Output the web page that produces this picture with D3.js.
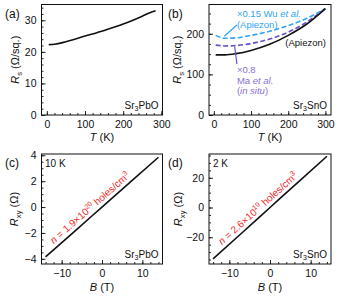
<!doctype html>
<html>
<head>
<meta charset="UTF-8">
<title>Sr3PbO / Sr3SnO transport</title>
<script src="https://d3js.org/d3.v7.min.js"></script>
<style>
    body { margin: 0; background: #fff; }
    svg { font-family: "Liberation Sans", Arial, Helvetica, sans-serif; }
</style>
</head>
<body>
<script>
    // (a) Sr3PbO sheet resistance
    var tA = [5, 20, 50, 100, 150, 200, 250, 270, 285];
    var rA = [22.3, 22.4, 23.2, 25.0, 26.8, 28.8, 31.3, 32.4, 33.0];

    // (b) Sr3SnO sheet resistance, three curves
    var tB = [5, 30, 60, 100, 150, 200, 250, 300];
    var rApiezon = [148, 148, 151, 159, 174, 196, 224, 262];
    var rMa = [172, 170, 171, 176, 187, 204, 229, 262];
    var rWu = [196, 189, 190, 196, 206, 220, 238, 262];

    // (c),(d) Hall resistance
    var field = [-14, -7, 0, 7, 14];
    var rxyPb = [-3.85, -1.93, 0, 1.93, 3.85];
    var rxySn = [-34.5, -17.3, 0, 17.3, 34.5];

    // tick labels
    var tTicks = [0, 100, 200, 300];
    var rsTicksA = [0, 10, 20, 30];
    var rsTicksB = [0, 100, 200];
    var bTicks = [-10, 0, 10];
    var rxyTicksC = [-4, -2, 0, 2, 4];
    var rxyTicksD = [-20, 0, 20];

    var W = 338, H = 300;
    var svg = d3.select("body").append("svg").attr("width", W).attr("height", H);

    function range(a, b, s) {
        var out = [];
        for (var v = a; v <= b + 1e-9; v += s) out.push(+v.toFixed(4));
        return out;
    }

    function panel(o) {
        var g = svg.append("g");
        var x = d3.scaleLinear().domain(o.xd).range([o.l, o.r]);
        var y = d3.scaleLinear().domain(o.yd).range([o.b, o.t]);

        // minor ticks
        g.append("g").attr("transform", "translate(0," + o.b + ")")
            .call(d3.axisBottom(x).tickValues(range(o.xm[0], o.xm[1], o.xm[2])).tickSize(-2).tickFormat(""));
        g.append("g").attr("transform", "translate(" + o.l + ",0)")
            .call(d3.axisLeft(y).tickValues(range(o.ym[0], o.ym[1], o.ym[2])).tickSize(-2).tickFormat(""));
        // major ticks
        g.append("g").attr("class", "ax").attr("transform", "translate(0," + o.b + ")")
            .call(d3.axisBottom(x).tickValues(o.xt).tickSize(-4).tickPadding(6));
        g.append("g").attr("class", "ax").attr("transform", "translate(" + o.l + ",0)")
            .call(d3.axisLeft(y).tickValues(o.yt).tickSize(-4).tickPadding(5));

        g.selectAll(".domain").remove();
        g.selectAll(".tick line").attr("stroke", "#111").attr("stroke-width", 0.9);
        g.selectAll(".ax text").attr("font-size", 10.5).attr("fill", "#111")
            .attr("font-family", "Liberation Sans, Arial, sans-serif");

        g.append("rect")
            .attr("x", o.l).attr("y", o.t)
            .attr("width", o.r - o.l).attr("height", o.b - o.t)
            .attr("fill", "none").attr("stroke", "#111").attr("stroke-width", 1);

        // panel letter
        g.append("text").attr("x", o.lx).attr("y", o.t + 13)
            .attr("font-size", 12).attr("fill", "#111").text(o.letter);

        return { g: g, x: x, y: y };
    }

    function sub(sel, main, s, rest, italicMain) {
        sel.append("tspan").attr("font-style", italicMain ? "italic" : null).text(main);
        sel.append("tspan").attr("font-size", "70%").attr("dy", 2.5).text(s);
        sel.append("tspan").attr("dy", -2.5).text(rest);
    }

    function yTitle(p, cx, main, s, rest) {
        var cy = (p.y.range()[0] + p.y.range()[1]) / 2;
        var t = p.g.append("text")
            .attr("transform", "translate(" + cx + "," + cy + ") rotate(-90)")
            .attr("text-anchor", "middle").attr("font-size", 11).attr("fill", "#111");
        sub(t, main, s, rest, true);
    }

    function xTitle(p, yb, main, rest) {
        var cx = (p.x.range()[0] + p.x.range()[1]) / 2;
        var t = p.g.append("text").attr("x", cx).attr("y", yb)
            .attr("text-anchor", "middle").attr("font-size", 11).attr("fill", "#111");
        t.append("tspan").attr("font-style", "italic").text(main);
        t.append("tspan").text(rest);
    }

    function compound(p, el, rest) {
        var t = p.g.append("text")
            .attr("x", p.x.range()[1] - 4).attr("y", p.y.range()[0] - 6.5)
            .attr("text-anchor", "end").attr("font-size", 10).attr("fill", "#111");
        sub(t, el, "3", rest, false);
    }

    function curve(p, xs, ys, color, dash) {
        var line = d3.line()
            .x(function (d, i) { return p.x(xs[i]); })
            .y(function (d) { return p.y(d); })
            .curve(d3.curveMonotoneX);
        p.g.append("path").datum(ys)
            .attr("d", line)
            .attr("fill", "none")
            .attr("stroke", color)
            .attr("stroke-width", 1.6)
            .attr("stroke-dasharray", dash || null);
    }

    function density(p, rxy, mant, exp) {
        var x0 = p.x(field[0]), y0 = p.y(rxy[0]);
        var x1 = p.x(field[4]), y1 = p.y(rxy[4]);
        var ang = Math.atan2(y1 - y0, x1 - x0) * 180 / Math.PI;
        var cx = p.x(-1.8);
        var cy = y0 + (y1 - y0) * (cx - x0) / (x1 - x0);
        var t = p.g.append("text")
            .attr("transform", "translate(" + cx + "," + cy + ") rotate(" + ang + ")")
            .attr("y", -4).attr("text-anchor", "middle")
            .attr("font-size", 10).attr("fill", "#f02a2a");
        t.append("tspan").attr("font-style", "italic").text("n");
        t.append("tspan").text(" = " + mant + "\u00d710");
        t.append("tspan").attr("font-size", "70%").attr("dy", -4).text(exp);
        t.append("tspan").attr("dy", 4).text(" holes/cm");
        t.append("tspan").attr("font-size", "70%").attr("dy", -4).text("3");
    }

    // ---------- (a)
    var pa = panel({
        l: 41.5, r: 162.5, t: 4.5, b: 115, lx: 5,
        xd: [-14, 303], yd: [0, 35],
        xt: tTicks, yt: rsTicksA,
        xm: [0, 300, 20], ym: [0, 34, 2], letter: "(a)"
    });
    curve(pa, tA, rA, "#111");
    yTitle(pa, 19, "R", "s", " (\u03a9/sq.)");
    xTitle(pa, 141, "T", " (K)");
    compound(pa, "Sr", "PbO");

    // ---------- (b)
    var pb = panel({
        l: 209, r: 331, t: 4.5, b: 115, lx: 168,
        xd: [-13, 315], yd: [0, 272],
        xt: tTicks, yt: rsTicksB,
        xm: [0, 300, 20], ym: [0, 250, 25], letter: "(b)"
    });
    curve(pb, tB, rWu, "#2fa3f5", "5,2.5");
    curve(pb, tB, rMa, "#6650c8", "5,2.5");
    curve(pb, tB, rApiezon, "#111");
    yTitle(pb, 181, "R", "s", " (\u03a9/sq.)");
    xTitle(pb, 141, "T", " (K)");
    compound(pb, "Sr", "SnO");

    // annotations in (b)
    var ax = pb.x(62);
    var wu = pb.g.append("text").attr("x", ax).attr("y", 17).attr("font-size", 9.5).attr("fill", "#2fa3f5");
    wu.append("tspan").text("\u00d70.15 Wu ");
    wu.append("tspan").attr("font-style", "italic").text("et al.");
    pb.g.append("text").attr("x", ax).attr("y", 27.5).attr("font-size", 9.5).attr("fill", "#2fa3f5").text("(Apiezon)");
    pb.g.append("line")
        .attr("x1", pb.x(28)).attr("y1", pb.y(rWu[1]) - 2)
        .attr("x2", ax).attr("y2", 25)
        .attr("stroke", "#2fa3f5").attr("stroke-width", 1.2);

    pb.g.append("text").attr("x", pb.x(192)).attr("y", 46).attr("font-size", 9.5).attr("fill", "#111").text("(Apiezon)");

    var purple = "#8a70d8";
    pb.g.append("text").attr("x", ax).attr("y", 73).attr("font-size", 9.5).attr("fill", purple).text("\u00d70.8");
    var ma = pb.g.append("text").attr("x", ax).attr("y", 83.5).attr("font-size", 9.5).attr("fill", purple);
    ma.append("tspan").text("Ma ");
    ma.append("tspan").attr("font-style", "italic").text("et al.");
    var insitu = pb.g.append("text").attr("x", ax).attr("y", 94).attr("font-size", 9.5).attr("fill", purple);
    insitu.append("tspan").text("(");
    insitu.append("tspan").attr("font-style", "italic").text("in situ");
    insitu.append("tspan").text(")");
    pb.g.append("line")
        .attr("x1", pb.x(56)).attr("y1", pb.y(171) + 1)
        .attr("x2", ax).attr("y2", 64)
        .attr("stroke", "#6650c8").attr("stroke-width", 1.2);

    // ---------- (c)
    var pc = panel({
        l: 41.5, r: 162.5, t: 154, b: 264, lx: 5,
        xd: [-15, 15], yd: [-4.4, 4.1],
        xt: bTicks, yt: rxyTicksC,
        xm: [-14, 14, 2], ym: [-4, 4, 0.5], letter: "(c)"
    });
    curve(pc, field, rxyPb, "#111");
    yTitle(pc, 18, "R", "xy", " (\u03a9)");
    xTitle(pc, 291, "B", " (T)");
    compound(pc, "Sr", "PbO");
    pc.g.append("text").attr("x", 45).attr("y", 167).attr("font-size", 10).attr("fill", "#111").text("10 K");
    density(pc, rxyPb, "1.9", "20");

    // ---------- (d)
    var pd = panel({
        l: 209, r: 331, t: 154, b: 264, lx: 168,
        xd: [-15, 15], yd: [-38, 36],
        xt: bTicks, yt: rxyTicksD,
        xm: [-14, 14, 2], ym: [-35, 35, 5], letter: "(d)"
    });
    curve(pd, field, rxySn, "#111");
    yTitle(pd, 182, "R", "xy", " (\u03a9)");
    xTitle(pd, 291, "B", " (T)");
    compound(pd, "Sr", "SnO");
    pd.g.append("text").attr("x", 213).attr("y", 167).attr("font-size", 10).attr("fill", "#111").text("2 K");
    density(pd, rxySn, "2.6", "19");
</script>
</body>
</html>
